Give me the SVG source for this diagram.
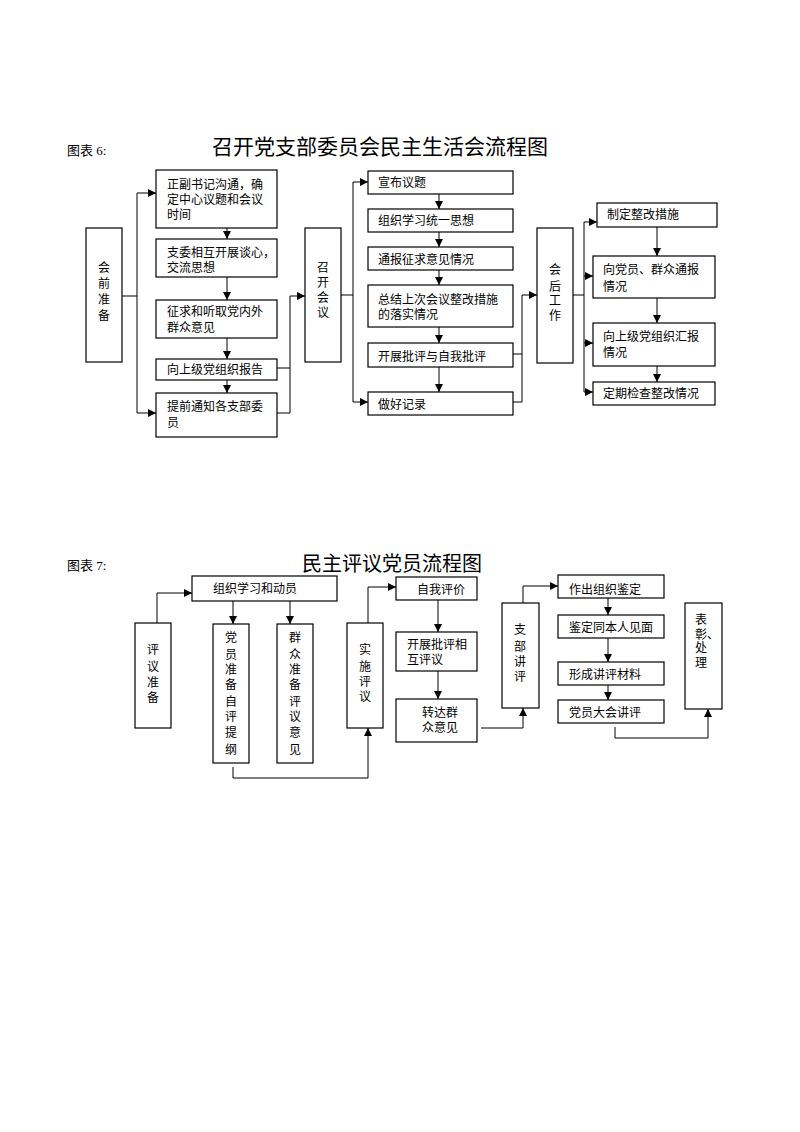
<svg xmlns="http://www.w3.org/2000/svg" width="800" height="1132" viewBox="0 0 800 1132">
<style>
rect.b{fill:#fff;stroke:#000;stroke-width:1.2}
text{font-family:"Liberation Serif","Noto Sans CJK SC",serif;font-size:12px;fill:#000}
text.t{font-size:20px}
text.lb{font-size:13px}
text.v{text-anchor:middle}
.c path{fill:none;stroke:#000;stroke-width:1}
</style>
<defs>
<marker id="ah" viewBox="0 0 10 10" refX="10" refY="5" markerWidth="8" markerHeight="8" markerUnits="userSpaceOnUse" orient="auto">
<path d="M0,0 L10,5 L0,10 Z" fill="#000"/>
</marker>
</defs>
<rect width="800" height="1132" fill="#fff"/>

<text class="lb" x="67" y="155">图表 6:</text>
<text class="t" x="212" y="154" style="font-size:21px">召开党支部委员会民主生活会流程图</text>

<g id="n_huiqian"><rect class="b" x="86" y="228" width="36" height="134"/>
<text class="v" x="104" y="272">会</text><text class="v" x="104" y="288">前</text><text class="v" x="104" y="304">准</text><text class="v" x="104" y="320">备</text></g>
<g id="n_a1"><rect class="b" x="156" y="170" width="121" height="58"/>
<text x="167" y="189">正副书记沟通，确</text><text x="167" y="204">定中心议题和会议</text><text x="167" y="219">时间</text></g>
<g id="n_a2"><rect class="b" x="156" y="239" width="121" height="38"/>
<text x="167" y="257">支委相互开展谈心，</text><text x="167" y="272">交流思想</text></g>
<g id="n_a3"><rect class="b" x="156" y="300" width="121" height="38"/>
<text x="167" y="316">征求和听取党内外</text><text x="167" y="332">群众意见</text></g>
<g id="n_a4"><rect class="b" x="156" y="359" width="121" height="21"/>
<text x="167" y="374">向上级党组织报告</text></g>
<g id="n_a5"><rect class="b" x="156" y="393" width="121" height="44"/>
<text x="167" y="411">提前通知各支部委</text><text x="167" y="427">员</text></g>

<g id="n_zhaokai"><rect class="b" x="305" y="228" width="36" height="134"/>
<text class="v" x="323" y="272">召</text><text class="v" x="323" y="287">开</text><text class="v" x="323" y="302">会</text><text class="v" x="323" y="317">议</text></g>
<g id="n_b1"><rect class="b" x="368" y="171" width="145" height="23"/><text x="378" y="187">宣布议题</text></g>
<g id="n_b2"><rect class="b" x="368" y="209" width="145" height="23"/><text x="378" y="225">组织学习统一思想</text></g>
<g id="n_b3"><rect class="b" x="368" y="247" width="145" height="23"/><text x="378" y="264">通报征求意见情况</text></g>
<g id="n_b4"><rect class="b" x="368" y="285" width="145" height="42"/><text x="378" y="304">总结上次会议整改措施</text><text x="378" y="319">的落实情况</text></g>
<g id="n_b5"><rect class="b" x="368" y="343" width="145" height="24"/><text x="378" y="361">开展批评与自我批评</text></g>
<g id="n_b6"><rect class="b" x="368" y="392" width="145" height="23"/><text x="378" y="409">做好记录</text></g>

<g id="n_huihou"><rect class="b" x="537" y="228" width="36" height="135"/>
<text class="v" x="555" y="274">会</text><text class="v" x="555" y="291">后</text><text class="v" x="555" y="305">工</text><text class="v" x="555" y="320">作</text></g>
<g id="n_c1"><rect class="b" x="597" y="203" width="120" height="24"/><text x="607" y="219">制定整改措施</text></g>
<g id="n_c2"><rect class="b" x="593" y="256" width="122" height="42"/><text x="603" y="274">向党员、群众通报</text><text x="603" y="291">情况</text></g>
<g id="n_c3"><rect class="b" x="593" y="323" width="122" height="43"/><text x="603" y="341">向上级党组织汇报</text><text x="603" y="357">情况</text></g>
<g id="n_c4"><rect class="b" x="593" y="382" width="122" height="23"/><text x="603" y="398">定期检查整改情况</text></g>

<text class="lb" x="67" y="570">图表 7:</text>
<text class="t" x="302" y="571">民主评议党员流程图</text>

<g id="n_d0"><rect class="b" x="192" y="576" width="145" height="25"/><text x="213" y="593">组织学习和动员</text></g>
<g id="n_pingyi"><rect class="b" x="135" y="623" width="36" height="105"/>
<text class="v" x="153" y="654">评</text><text class="v" x="153" y="671">议</text><text class="v" x="153" y="687">准</text><text class="v" x="153" y="702">备</text></g>
<g id="n_dangyuan"><rect class="b" x="213" y="624" width="36" height="139"/>
<text class="v" x="231" y="642">党</text><text class="v" x="231" y="659">员</text><text class="v" x="231" y="674">准</text><text class="v" x="231" y="689">备</text><text class="v" x="231" y="706">自</text><text class="v" x="231" y="721">评</text><text class="v" x="231" y="737">提</text><text class="v" x="231" y="754">纲</text></g>
<g id="n_qunzhong"><rect class="b" x="277" y="624" width="36" height="139"/>
<text class="v" x="295" y="642">群</text><text class="v" x="295" y="659">众</text><text class="v" x="295" y="674">准</text><text class="v" x="295" y="689">备</text><text class="v" x="295" y="706">评</text><text class="v" x="295" y="721">议</text><text class="v" x="295" y="737">意</text><text class="v" x="295" y="754">见</text></g>
<g id="n_shishi"><rect class="b" x="347" y="623" width="36" height="105"/>
<text class="v" x="365" y="654">实</text><text class="v" x="365" y="671">施</text><text class="v" x="365" y="686">评</text><text class="v" x="365" y="701">议</text></g>
<g id="n_e1"><rect class="b" x="396" y="577" width="81" height="23"/><text x="417" y="594">自我评价</text></g>
<g id="n_e2"><rect class="b" x="396" y="632" width="81" height="39"/><text x="407" y="649">开展批评相</text><text x="407" y="664">互评议</text></g>
<g id="n_e3"><rect class="b" x="396" y="699" width="81" height="43"/><text x="422" y="717">转达群</text><text x="422" y="732">众意见</text></g>
<g id="n_zhibu"><rect class="b" x="502" y="603" width="37" height="105"/>
<text class="v" x="520" y="634">支</text><text class="v" x="520" y="651">部</text><text class="v" x="520" y="666">讲</text><text class="v" x="520" y="681">评</text></g>
<g id="n_f1"><rect class="b" x="558" y="575" width="106" height="23"/><text x="569" y="594">作出组织鉴定</text></g>
<g id="n_f2"><rect class="b" x="558" y="615" width="106" height="23"/><text x="569" y="632">鉴定同本人见面</text></g>
<g id="n_f3"><rect class="b" x="558" y="662" width="106" height="23"/><text x="569" y="679">形成讲评材料</text></g>
<g id="n_f4"><rect class="b" x="558" y="700" width="106" height="23"/><text x="569" y="717">党员大会讲评</text></g>
<g id="n_biaozhang"><rect class="b" x="685" y="603" width="37" height="106"/>
<text x="695" y="624">表</text><text x="695" y="639">彰、</text><text x="695" y="652">处</text><text x="695" y="667">理</text></g>

<g id="connectors" class="c">
<path d="M122,296 H137"/>
<path d="M137,193 V413"/>
<path d="M137,193 H156" marker-end="url(#ah)"/>
<path d="M137,413 H156" marker-end="url(#ah)"/>
<path d="M227,228 V239" marker-end="url(#ah)"/>
<path d="M227,277 V300" marker-end="url(#ah)"/>
<path d="M227,338 V359" marker-end="url(#ah)"/>
<path d="M227,380 V393" marker-end="url(#ah)"/>
<path d="M277,368 H290"/>
<path d="M277,413 H290"/>
<path d="M290,296 V413"/>
<path d="M290,296 H305" marker-end="url(#ah)"/>
<path d="M341,295 H353"/>
<path d="M353,182 V402"/>
<path d="M353,182 H368" marker-end="url(#ah)"/>
<path d="M353,402 H368" marker-end="url(#ah)"/>
<path d="M439,194 V209" marker-end="url(#ah)"/>
<path d="M439,232 V247" marker-end="url(#ah)"/>
<path d="M439,270 V285" marker-end="url(#ah)"/>
<path d="M439,327 V343" marker-end="url(#ah)"/>
<path d="M439,367 V392" marker-end="url(#ah)"/>
<path d="M513,354 H522"/>
<path d="M513,402 H522"/>
<path d="M522,295 V402"/>
<path d="M522,295 H537" marker-end="url(#ah)"/>
<path d="M573,295 H584"/>
<path d="M584,222 V392"/>
<path d="M584,222 H597" marker-end="url(#ah)"/>
<path d="M584,276 H593" marker-end="url(#ah)"/>
<path d="M584,343 H593" marker-end="url(#ah)"/>
<path d="M584,392 H593" marker-end="url(#ah)"/>
<path d="M657,227 V256" marker-end="url(#ah)"/>
<path d="M657,298 V323" marker-end="url(#ah)"/>
<path d="M657,366 V382" marker-end="url(#ah)"/>

<path d="M157,623 V593 H192" marker-end="url(#ah)"/>
<path d="M233,601 V624" marker-end="url(#ah)"/>
<path d="M290,601 V624" marker-end="url(#ah)"/>
<path d="M233,767 V778 H368 V728" marker-end="url(#ah)"/>
<path d="M368,623 V587 H396" marker-end="url(#ah)"/>
<path d="M438,600 V632" marker-end="url(#ah)"/>
<path d="M438,671 V699" marker-end="url(#ah)"/>
<path d="M481,728 H523 V708" marker-end="url(#ah)"/>
<path d="M523,603 V586 H558" marker-end="url(#ah)"/>
<path d="M608,598 V615" marker-end="url(#ah)"/>
<path d="M608,638 V662" marker-end="url(#ah)"/>
<path d="M608,685 V700" marker-end="url(#ah)"/>
<path d="M615,727 V738 H708 V709" marker-end="url(#ah)"/>
</g>
</svg>
